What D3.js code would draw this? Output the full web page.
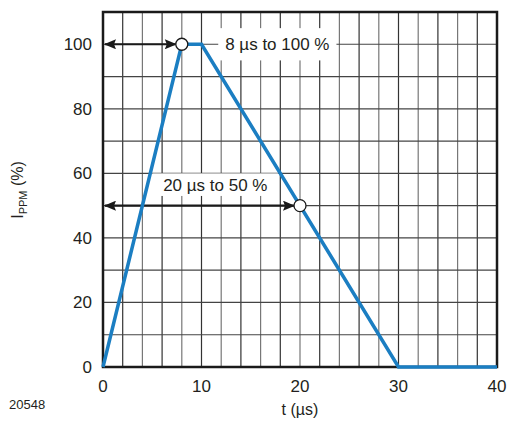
<html>
<script src="https://d3js.org/d3.v7.min.js"></script>
<body style="margin:0;background:#fff">
<svg id="plot"></svg>
<script>

// pulse shape (t in µs, current in %)
var pulseT = [0, 8, 10, 30, 40];
var pulseI = [0, 100, 100, 0, 0];
var xTicks = [0, 10, 20, 30, 40];
var yTicks = [0, 20, 40, 60, 80, 100];
var markT = [8, 20];
var markI = [100, 50];
var markLabels = ["8 µs to 100 %", "20 µs to 50 %"];
// where the label boxes sit (t from..to, I from..to)
var boxT = [[11.7, 23.7], [5, 17.8]];
var boxI = [[95, 105], [53, 60]];

var screen = {width:507, height:428};
var margins = {top:12, bottom:61, left:103, right:10};
var graph = {
    width:screen.width-margins.left-margins.right,
    height:screen.height-margins.top-margins.bottom
};

var svg = d3.select("#plot")
    .attr("width",screen.width)
    .attr("height",screen.height)
    .style("font-family","'Liberation Sans', Arial, sans-serif");

var xScale = d3.scaleLinear().domain([0,40]).range([0,graph.width]);
var yScale = d3.scaleLinear().domain([0,110]).range([graph.height,0]);

var g = svg.append("g")
    .attr("transform","translate("+margins.left+","+margins.top+")");

//grid
g.selectAll(".vgrid")
    .data(d3.range(2,40,2))
    .enter().append("line")
    .attr("x1",function(d){return xScale(d);})
    .attr("x2",function(d){return xScale(d);})
    .attr("y1",0).attr("y2",graph.height)
    .attr("stroke",function(d,i){return i%2==0 ? "#333" : "#777";})
    .attr("stroke-width",1.2);

g.selectAll(".hgrid")
    .data(d3.range(10,110,10))
    .enter().append("line")
    .attr("y1",function(d){return yScale(d);})
    .attr("y2",function(d){return yScale(d);})
    .attr("x1",0).attr("x2",graph.width)
    .attr("stroke","#444")
    .attr("stroke-width",1.2);

//label boxes hide the grid
g.selectAll(".box")
    .data(boxT)
    .enter().append("rect")
    .attr("x",function(d){return xScale(d[0]);})
    .attr("width",function(d){return xScale(d[1])-xScale(d[0]);})
    .attr("y",function(d,i){return yScale(boxI[i][1]);})
    .attr("height",function(d,i){return yScale(boxI[i][0])-yScale(boxI[i][1]);})
    .attr("fill","#fff");

g.selectAll(".lab")
    .data(markLabels)
    .enter().append("text")
    .text(function(d){return d;})
    .attr("x",function(d,i){return xScale((boxT[i][0]+boxT[i][1])/2);})
    .attr("y",function(d,i){return yScale((boxI[i][0]+boxI[i][1])/2);})
    .attr("dy","0.35em")
    .attr("text-anchor","middle")
    .attr("font-size",17)
    .attr("fill","#231f20");

//frame
g.append("rect")
    .attr("width",graph.width).attr("height",graph.height)
    .attr("fill","none").attr("stroke","#1a1a1a").attr("stroke-width",2.5);

//arrows
var defs = svg.append("defs");
defs.append("marker").attr("id","ah")
    .attr("viewBox","0 0 12 10").attr("refX",11).attr("refY",5)
    .attr("markerWidth",13).attr("markerHeight",10)
    .attr("markerUnits","userSpaceOnUse")
    .attr("orient","auto-start-reverse")
    .append("path").attr("d","M0,0 L12,5 L0,10 L2,5 z").attr("fill","#1a1a1a");

g.selectAll(".arrow")
    .data(markT)
    .enter().append("line")
    .attr("x1",xScale(0)+2)
    .attr("x2",function(d){return xScale(d)-6;})
    .attr("y1",function(d,i){return yScale(markI[i]);})
    .attr("y2",function(d,i){return yScale(markI[i]);})
    .attr("stroke","#1a1a1a").attr("stroke-width",2.2)
    .attr("marker-start","url(#ah)").attr("marker-end","url(#ah)");

//pulse line
var line = d3.line()
    .x(function(d,i){return xScale(pulseT[i]);})
    .y(function(d){return yScale(d);});
g.append("path")
    .datum(pulseI)
    .attr("d",line)
    .attr("fill","none")
    .attr("stroke","#1b7ec2")
    .attr("stroke-width",3.5)
    .attr("stroke-linejoin","miter");

//markers
g.selectAll(".pt")
    .data(markT)
    .enter().append("circle")
    .attr("cx",function(d){return xScale(d);})
    .attr("cy",function(d,i){return yScale(markI[i]);})
    .attr("r",6)
    .attr("fill","#fff").attr("stroke","#1a1a1a").attr("stroke-width",1.3);

//axes labels
g.selectAll(".xt")
    .data(xTicks)
    .enter().append("text")
    .text(function(d){return d;})
    .attr("x",function(d){return xScale(d);})
    .attr("y",graph.height+25)
    .attr("text-anchor","middle")
    .attr("font-size",17).attr("fill","#231f20");

g.selectAll(".yt")
    .data(yTicks)
    .enter().append("text")
    .text(function(d){return d;})
    .attr("x",-11)
    .attr("y",function(d){return yScale(d);})
    .attr("dy","0.35em")
    .attr("text-anchor","end")
    .attr("font-size",17).attr("fill","#231f20");

svg.append("text")
    .text("t (µs)")
    .attr("x",margins.left+graph.width/2)
    .attr("y",415)
    .attr("text-anchor","middle")
    .attr("font-size",16).attr("fill","#231f20");

svg.append("text")
    .text("20548")
    .attr("x",9).attr("y",409)
    .attr("font-size",13).attr("fill","#231f20");

var yl = svg.append("text")
    .attr("transform","translate(23,190) rotate(-90)")
    .attr("text-anchor","middle")
    .attr("font-size",16).attr("fill","#231f20");
yl.append("tspan").text("I");
yl.append("tspan").text("PPM").attr("font-size",11).attr("dy",4);
yl.append("tspan").text(" (%)").attr("dy",-4);

</script>
</body>
</html>
